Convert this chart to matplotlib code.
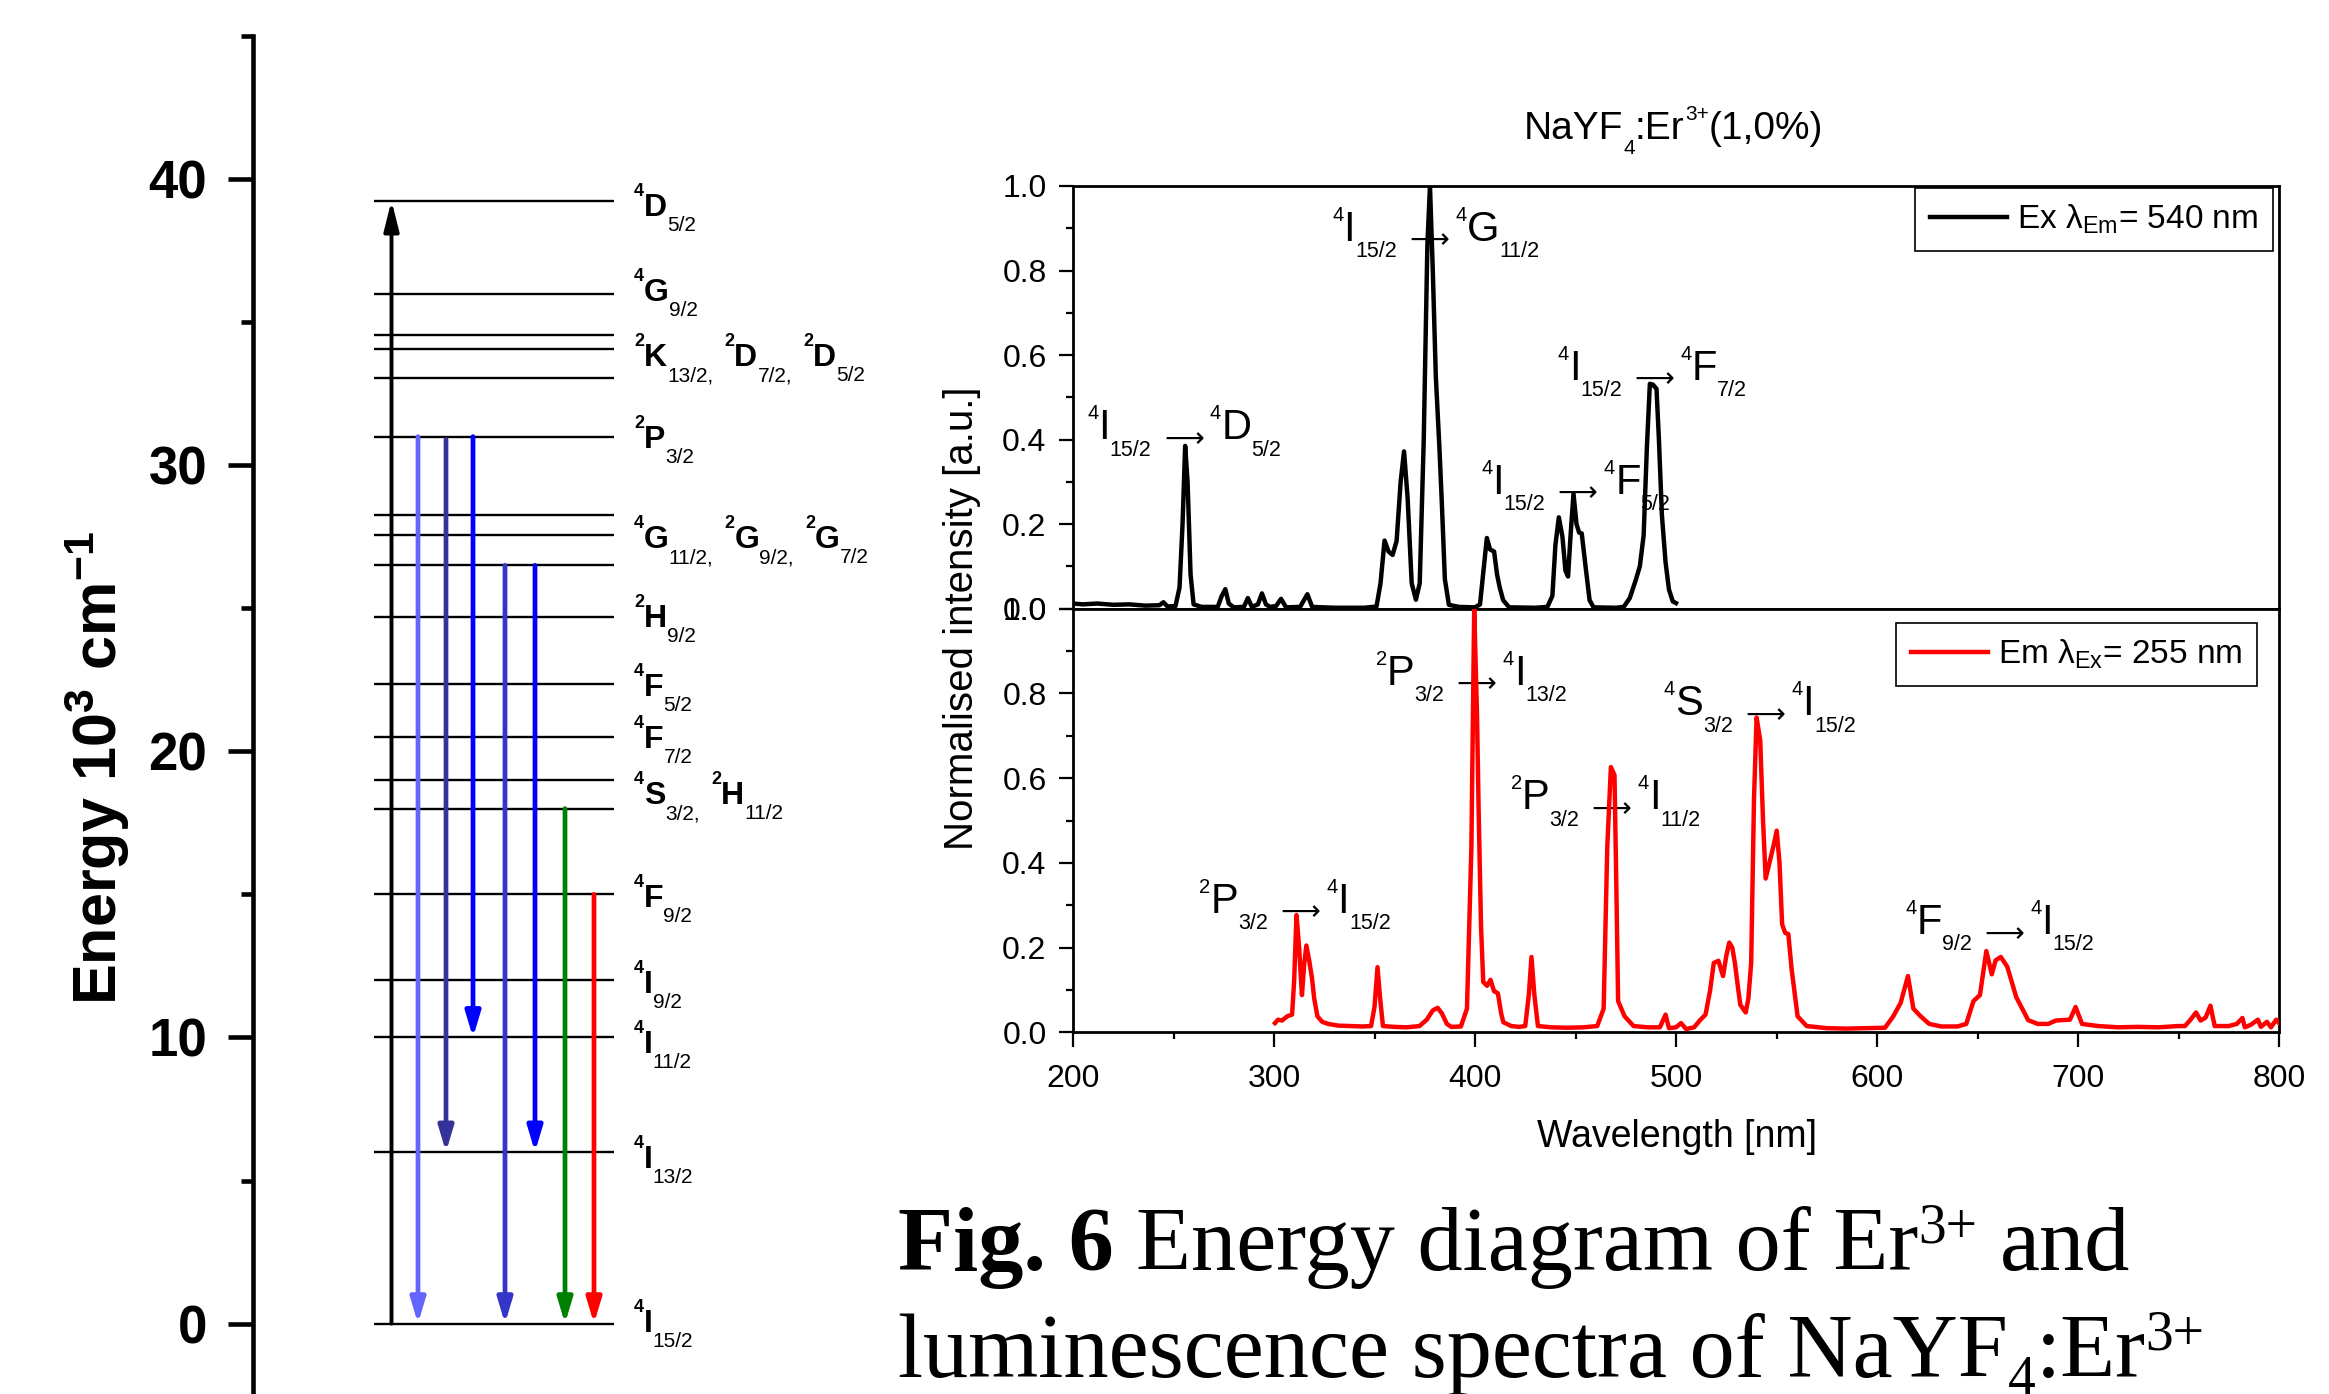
import matplotlib.pyplot as plt
from matplotlib.ticker import MultipleLocator

plt.rcParams['font.family'] = ['Liberation Sans', 'DejaVu Sans']
plt.rcParams['mathtext.fontset'] = 'custom'
plt.rcParams['mathtext.rm'] = 'Liberation Sans'
plt.rcParams['mathtext.default'] = 'regular'

# *************************--------DATOS--------**************************

# Niveles de energia del Er3+ (10^3 cm^-1)
niveles = [0.0, 6.0, 10.0, 12.0, 15.0, 18.0, 19.0, 20.5, 22.35, 24.7,
           26.5, 27.55, 28.25, 31.0, 33.05, 34.05, 34.55, 36.0, 39.25]

# Etiquetas de niveles: "sup principal sub", terminos separados por ';'
etiquetas_niveles = ['4 D 5/2', '4 G 9/2', '2 K 13/2; 2 D 7/2; 2 D 5/2', '2 P 3/2',
                     '4 G 11/2; 2 G 9/2; 2 G 7/2', '2 H 9/2', '4 F 5/2', '4 F 7/2',
                     '4 S 3/2; 2 H 11/2', '4 F 9/2', '4 I 9/2', '4 I 11/2', '4 I 13/2',
                     '4 I 15/2']
altura_etiquetas = [39.1, 36.15, 33.85, 31.0, 27.5, 24.75, 22.35, 20.5, 18.55,
                    14.95, 11.95, 9.85, 5.85, 0.1]

# Transiciones (inicio, fin, color)
excitacion = [0.0, 39.25]
trans_inicio = [31.0, 30.9, 31.0, 26.5, 26.5, 18.0, 15.0]
trans_fin = [0.0, 6.0, 10.0, 0.0, 6.0, 0.0, 0.0]
trans_colores = ['#6464ff', '#333399', '#0000ff', '#3535c8', '#0000ff', '#008000', '#ff0000']

# Espectro de excitacion (lambda_Em = 540 nm)
ex_nm = [200, 205, 212, 220, 228, 236, 243, 245, 247, 251, 253, 254.5, 255.8, 257, 258.5,
         260, 264, 272, 274, 275.8, 277.5, 280, 285, 287, 289, 292, 294, 296, 298, 301,
         303.5, 306, 313, 316.6, 319, 330, 345, 351, 353, 355, 357, 359, 361, 363, 364.7,
         366.5, 368.5, 370.6, 372.5, 374.5, 376.3, 377.6, 379, 380.5, 382.3, 383.5, 385,
         387, 392, 400, 402.5, 404, 405.9, 407.5, 409.5, 411, 412.3, 414, 417, 430, 436,
         438.5, 440, 441.7, 443.5, 445, 446.3, 447.5, 449, 450.5, 451.8, 453.1, 455, 457,
         459, 470, 474, 477, 480, 482, 483.9, 485.5, 487, 488.5, 490.3, 491.5, 493, 494.8,
         496.5, 498.4, 500]
ex_int = [0.012, 0.010, 0.012, 0.009, 0.010, 0.007, 0.008, 0.015, 0.005, 0.006, 0.05, 0.20,
          0.385, 0.30, 0.08, 0.01, 0.004, 0.004, 0.030, 0.046, 0.012, 0.003, 0.004, 0.025,
          0.004, 0.010, 0.036, 0.010, 0.004, 0.006, 0.023, 0.003, 0.004, 0.034, 0.004, 0.002,
          0.002, 0.005, 0.06, 0.161, 0.135, 0.127, 0.16, 0.30, 0.372, 0.26, 0.06, 0.021, 0.06,
          0.40, 0.86, 1.0, 0.80, 0.55, 0.38, 0.25, 0.07, 0.009, 0.004, 0.003, 0.01, 0.08,
          0.167, 0.14, 0.135, 0.08, 0.05, 0.02, 0.003, 0.002, 0.004, 0.03, 0.15, 0.216, 0.17,
          0.09, 0.076, 0.17, 0.272, 0.20, 0.18, 0.178, 0.10, 0.02, 0.003, 0.002, 0.004, 0.025,
          0.068, 0.10, 0.173, 0.38, 0.532, 0.53, 0.52, 0.40, 0.22, 0.11, 0.045, 0.017, 0.013]

# Espectro de emision (lambda_Ex = 255 nm)
em_nm = [300.5, 302, 304, 306.6, 309, 310, 311.2, 312.5, 313.9, 315, 316.1, 317.5, 318.9,
         320, 321.6, 324, 327, 332, 338, 344, 348.3, 350, 351.5, 352.8, 354.2, 360, 366,
         372.4, 376, 379, 381.4, 383.5, 386, 388.2, 393, 396, 398.2, 399.6, 401, 401.8, 403,
         404.1, 406, 407.7, 409.5, 410.5, 411.4, 413, 414.1, 418, 422, 425, 426.8, 428.1,
         429.5, 431.3, 438, 446, 454, 460.8, 464, 465.8, 467.6, 469.4, 470.3, 471.2, 474.4,
         478.9, 486, 492, 494.8, 496.5, 500, 502.5, 505, 509, 512, 514.7, 517, 518.8, 521.1,
         523.4, 525, 526.5, 528, 529.3, 531, 532, 534.7, 536, 537.4, 538.8, 540.1, 541.9,
         543.3, 544.6, 546.9, 548.5, 550.1, 551.5, 552.8, 554.3, 555.9, 557.5, 560.5, 565,
         575, 585, 595, 604, 608.1, 611.8, 615.4, 618.1, 621.7, 626, 632, 640, 644.4, 648,
         651.2, 654.4, 657.1, 659, 661.6, 664.8, 669.3, 675.2, 680, 685.2, 689, 692, 696,
         698.8, 702, 710, 720, 730, 740, 750, 753.2, 756, 758.7, 761, 763.5, 765.9, 768, 775,
         779, 781.8, 783, 786, 789.5, 791, 794, 796, 798.6, 800]
em_int = [0.022, 0.030, 0.028, 0.038, 0.042, 0.12, 0.277, 0.20, 0.088, 0.16, 0.205, 0.17,
          0.128, 0.08, 0.038, 0.025, 0.020, 0.016, 0.015, 0.014, 0.015, 0.06, 0.154, 0.08,
          0.015, 0.013, 0.012, 0.015, 0.030, 0.052, 0.058, 0.045, 0.020, 0.013, 0.014, 0.056,
          0.436, 1.0, 0.75, 0.526, 0.25, 0.119, 0.11, 0.124, 0.097, 0.095, 0.092, 0.045,
          0.024, 0.015, 0.013, 0.015, 0.09, 0.178, 0.09, 0.015, 0.012, 0.011, 0.012, 0.015,
          0.056, 0.436, 0.626, 0.607, 0.35, 0.074, 0.038, 0.015, 0.012, 0.012, 0.042, 0.010,
          0.012, 0.022, 0.008, 0.012, 0.029, 0.042, 0.10, 0.164, 0.169, 0.133, 0.18, 0.212,
          0.20, 0.164, 0.10, 0.065, 0.047, 0.08, 0.164, 0.55, 0.743, 0.689, 0.50, 0.363, 0.408,
          0.44, 0.476, 0.40, 0.255, 0.235, 0.232, 0.15, 0.038, 0.015, 0.010, 0.009, 0.010,
          0.011, 0.038, 0.07, 0.133, 0.056, 0.038, 0.020, 0.014, 0.014, 0.020, 0.074, 0.088,
          0.192, 0.137, 0.17, 0.178, 0.155, 0.083, 0.029, 0.020, 0.020, 0.028, 0.029, 0.030,
          0.060, 0.020, 0.015, 0.012, 0.013, 0.012, 0.015, 0.015, 0.030, 0.047, 0.028, 0.035,
          0.063, 0.015, 0.015, 0.020, 0.034, 0.012, 0.018, 0.030, 0.013, 0.025, 0.012, 0.030,
          0.022]

# Etiquetas de las transiciones: (inicial, final) y posicion (nm, intensidad)
trans_ex = [('4 I 15/2', '4 D 5/2'), ('4 I 15/2', '4 G 11/2'),
            ('4 I 15/2', '4 F 7/2'), ('4 I 15/2', '4 F 5/2')]
pos_ex = [(207, 0.401), (329, 0.870), (441, 0.541), (403, 0.272)]
trans_em = [('2 P 3/2', '4 I 15/2'), ('2 P 3/2', '4 I 13/2'), ('2 P 3/2', '4 I 11/2'),
            ('4 S 3/2', '4 I 15/2'), ('4 F 9/2', '4 I 15/2')]
pos_em = [(262.7, 0.282), (350.6, 0.820), (417.7, 0.526), (494, 0.748), (614, 0.232)]

# *************************--------FUNCIONES--------**************************


def texto_compuesto(ax, x, y, piezas, estilos, coords='data', zorder=3):
    # Escribe piezas de texto una tras otra (estilo Origin: sub/superindices aparte)
    prev = None
    for pieza in piezas:
        s, tipo = pieza[0], pieza[1]
        dx = pieza[2] if len(pieza) > 2 else 0
        tam, dy, peso, fam = estilos[tipo]
        if prev is None:
            xy, xyc = (x, y), coords
        else:
            xy, xyc = (1, y), (prev, coords)
        prev = ax.annotate(s, xy=xy, xycoords=xyc, xytext=(dx, dy), textcoords='offset points',
                           fontsize=tam, fontweight=peso, family=fam, ha='left', va='baseline',
                           annotation_clip=False, zorder=zorder)
    return prev


def piezas_termino(cadena, hueco=8):
    piezas = []
    terminos = [t.split() for t in cadena.split(';')]
    for i, (sup, letra, sub) in enumerate(terminos):
        coma = ',' if i < len(terminos) - 1 else ''
        piezas += [(sup, 'sup', hueco if i > 0 else 0), (letra, 'n'), (sub + coma, 'sub')]
    return piezas


# *************************--------FIGURA--------**************************

W, H = 2329, 1394
fig = plt.figure(figsize=(W / 100, H / 100), dpi=100)


def caja(x0, y0, x1, y1):
    # rectangulo en pixeles (origen arriba a la izquierda) -> fraccion de figura
    return [x0 / W, 1 - y1 / H, (x1 - x0) / W, (y1 - y0) / H]


# ---- Diagrama de energia
ax_e = fig.add_axes(caja(253, 36, 880, 1394))
ax_e.set_xlim(0, 627)
ax_e.set_ylim(-2.46, 45)
ax_e.hlines(niveles, 121, 361, color='black', lw=1.7)

ax_e.annotate('', xy=(138.5, excitacion[1]), xytext=(138.5, excitacion[0]),
              arrowprops=dict(arrowstyle='-|>,head_length=1.8,head_width=0.45', mutation_scale=10,
                              lw=2.8, color='black', shrinkA=0, shrinkB=0))
x_flechas = [165, 193, 220, 252, 282, 312, 341]
for x, y0, y1, c in zip(x_flechas, trans_inicio, trans_fin, trans_colores):
    ax_e.annotate('', xy=(x, y1), xytext=(x, y0),
                  arrowprops=dict(arrowstyle='-|>,head_length=1.5,head_width=0.45', mutation_scale=10,
                                  lw=3.4, color=c, shrinkA=0, shrinkB=0))

est_niveles = {'n': (23, 0, 'bold', 'Liberation Sans'),
               'sup': (13, 14.4, 'bold', 'Liberation Sans'),
               'sub': (15, -10.8, 'normal', 'Liberation Sans')}
for etiqueta, yc in zip(etiquetas_niveles, altura_etiquetas):
    texto_compuesto(ax_e, 381, yc - 0.4, piezas_termino(etiqueta), est_niveles)

for lado in ['top', 'right', 'bottom']:
    ax_e.spines[lado].set_visible(False)
ax_e.spines['left'].set_linewidth(3.3)
ax_e.set_xticks([])
ax_e.yaxis.set_major_locator(MultipleLocator(10))
ax_e.yaxis.set_minor_locator(MultipleLocator(5))
ax_e.tick_params(axis='y', which='major', length=18, width=3.3, pad=15, labelsize=38)
ax_e.tick_params(axis='y', which='minor', length=8.5, width=3.3)
for t in ax_e.get_yticklabels():
    t.set_fontweight('bold')
ax_e.patch.set_visible(False)

fig.text(97 / W, 1 - 768 / H, r'Energy 10$^{3}$ cm$^{-1}$', rotation=90, fontsize=44,
         fontweight='bold', ha='center', va='center')

# ---- Espectros
ax_top = fig.add_axes(caja(1073, 186, 2279, 608.6))
ax_bot = fig.add_axes(caja(1073, 608.6, 2279, 1032.4))

ax_top.plot(ex_nm, ex_int, color='black', lw=3.2, zorder=3, label=r'Ex $\lambda_{Em}$= 540 nm')
ax_bot.plot(em_nm, em_int, color='red', lw=3.2, zorder=3, label=r'Em $\lambda_{Ex}$= 255 nm')

for ax in [ax_top, ax_bot]:
    ax.set_xlim(200, 800)
    ax.set_ylim(0, 1.0)
    ax.yaxis.set_major_locator(MultipleLocator(0.2))
    ax.yaxis.set_minor_locator(MultipleLocator(0.1))
    ax.xaxis.set_major_locator(MultipleLocator(100))
    ax.xaxis.set_minor_locator(MultipleLocator(50))
    for lado in ax.spines:
        ax.spines[lado].set_linewidth(2.0)
    ax.tick_params(axis='y', which='major', direction='out', length=10, width=1.6, pad=9, labelsize=23)
    ax.tick_params(axis='y', which='minor', direction='out', length=5, width=1.6)
    ax.tick_params(axis='x', which='major', direction='out', length=11, width=1.6, pad=12, labelsize=23)
    ax.tick_params(axis='x', which='minor', direction='out', length=5, width=1.6)

ax_top.tick_params(axis='x', which='both', bottom=False, labelbottom=False)

est_trans = {'n': (30, 0, 'normal', 'Liberation Sans'),
             'sup': (14.5, 14.4, 'normal', 'Liberation Sans'),
             'sub': (15.5, -11.8, 'normal', 'Liberation Sans'),
             'arr': (20, -4, 'normal', 'DejaVu Sans')}
for ax, transiciones, posiciones in [(ax_top, trans_ex, pos_ex), (ax_bot, trans_em, pos_em)]:
    for (ini, fin), (x, y) in zip(transiciones, posiciones):
        piezas = piezas_termino(ini) + [(r'$\longrightarrow$', 'arr', 5)] + piezas_termino(fin)
        piezas[4] = (piezas[4][0], 'sup', 4)
        texto_compuesto(ax, x, y, piezas, est_trans, zorder=2)

leg1 = ax_top.legend(loc='upper right', bbox_to_anchor=(2273 / W, 1 - 188 / H),
                     bbox_transform=fig.transFigure, borderaxespad=0, fontsize=24,
                     handlelength=2.3, handletextpad=0.3, borderpad=0.45,
                     fancybox=False, edgecolor='black', framealpha=1)
leg1.get_frame().set_linewidth(1.2)
leg2 = ax_bot.legend(loc='upper right', bbox_to_anchor=(2257 / W, 1 - 623 / H),
                     bbox_transform=fig.transFigure, borderaxespad=0, fontsize=24,
                     handlelength=2.3, handletextpad=0.3, borderpad=0.45,
                     fancybox=False, edgecolor='black', framealpha=1)
leg2.get_frame().set_linewidth(1.2)

# Titulo
est_titulo = {'n': (28, 0, 'normal', 'Liberation Sans'),
              'sub': (15, -10.5, 'normal', 'Liberation Sans'),
              'sup': (15, 13.5, 'normal', 'Liberation Sans')}
texto_compuesto(ax_top, 1524 / W, 1 - 139 / H,
                [('NaYF', 'n'), ('4', 'sub'), (':Er', 'n'), ('3+', 'sup'), ('(1,0%)', 'n')],
                est_titulo, coords='figure fraction')

fig.text(1677 / W, 1 - 1137 / H, 'Wavelength [nm]', ha='center', va='center', fontsize=27)
fig.text(962 / W, 1 - 618 / H, 'Normalised intensity [a.u.]', rotation=90, ha='center',
         va='center', fontsize=29)

# ---- Pie de figura
est_pie = {'b': (65, 0, 'bold', 'Liberation Serif'),
           'n': (65, 0, 'normal', 'Liberation Serif'),
           'sup': (40, 20, 'normal', 'Liberation Serif'),
           'sub': (40, -13, 'normal', 'Liberation Serif')}
texto_compuesto(ax_top, 898 / W, 1 - 1270 / H,
                [('Fig. 6', 'b'), ('Energy diagram of Er', 'n', 16), ('3+', 'sup'), ('and', 'n', 16)],
                est_pie, coords='figure fraction')
texto_compuesto(ax_top, 898 / W, 1 - 1377 / H,
                [('luminescence spectra of NaYF', 'n'), ('4', 'sub'), (':Er', 'n'), ('3+', 'sup')],
                est_pie, coords='figure fraction')

fig.savefig('out.png', dpi=100)
